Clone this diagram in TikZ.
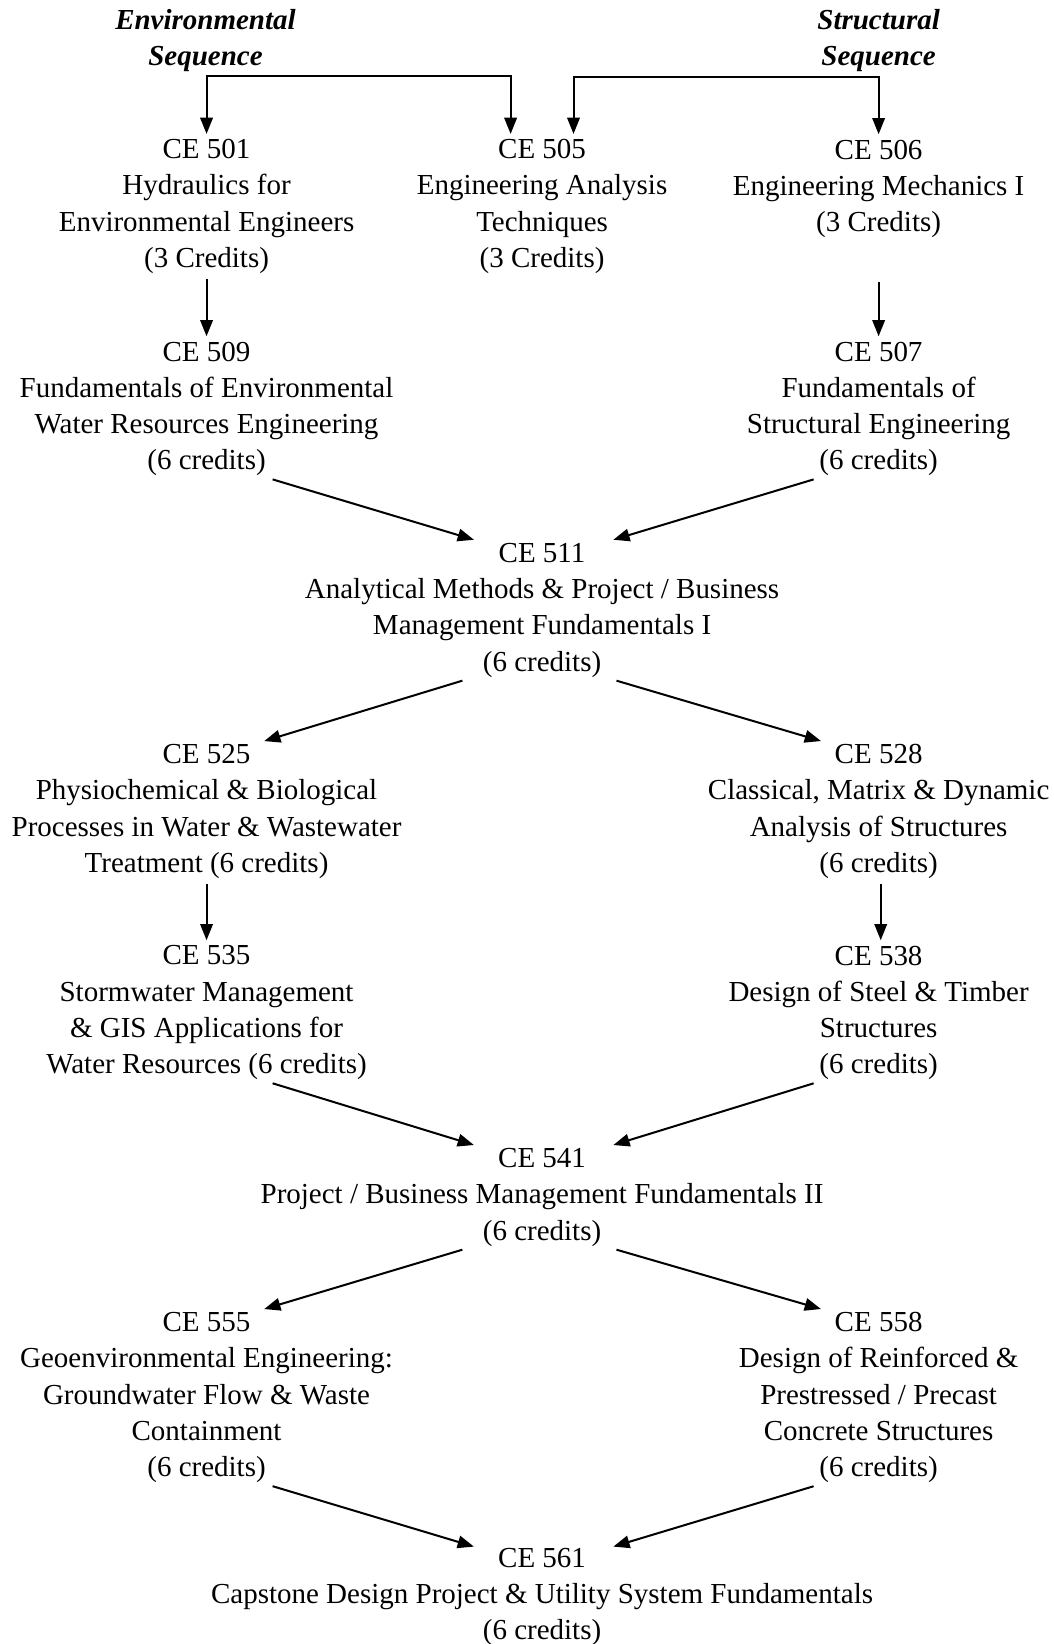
\documentclass[tikz,border=0pt]{standalone}
\usepackage{fontspec}
\setmainfont{Liberation Serif}
\usetikzlibrary{arrows.meta,calc}
\tikzset{
  course/.style={align=center,inner sep=2pt,font=\fontsize{11.6}{14.5}\selectfont},
  seqhead/.style={align=center,inner sep=2pt,font=\fontsize{11.6}{14.5}\selectfont\bfseries\itshape},
  flow/.style={-{Triangle[length=6.5pt,width=5pt]},line width=.8pt},
  split/.style={{Triangle[length=6.5pt,width=5pt]}-{Triangle[length=6.5pt,width=5pt]},line width=.8pt},
}
\begin{document}
\begin{tikzpicture}[x=.4195pt,y=-.4195pt]
  \useasboundingbox (0,0) rectangle (1005,1568);
  \node[seqhead] (envseq) at (196,39) {Environmental\\Sequence};
  \node[seqhead] (strseq) at (838,39) {Structural\\Sequence};
  \node[course] (c501) at (197,197) {CE 501\\Hydraulics for\\Environmental Engineers\\(3 Credits)};
  \node[course] (c505) at (517,197) {CE 505\\Engineering Analysis\\Techniques\\(3 Credits)};
  \node[course] (c506) at (838,180) {CE 506\\Engineering Mechanics I\\(3 Credits)};
  \node[course] (c509) at (197,390) {CE 509\\Fundamentals of Environmental\\Water Resources Engineering\\(6 credits)};
  \node[course] (c507) at (838,390) {CE 507\\Fundamentals of\\Structural Engineering\\(6 credits)};
  \node[course] (c511) at (517,582) {CE 511\\Analytical Methods \& Project / Business\\Management Fundamentals I\\(6 credits)};
  \node[course] (c525) at (197,774) {CE 525\\Physiochemical \& Biological\\Processes in Water \& Wastewater\\Treatment (6 credits)};
  \node[course] (c528) at (838,774) {CE 528\\Classical, Matrix \& Dynamic\\Analysis of Structures\\(6 credits)};
  \node[course] (c535) at (197,966) {CE 535\\Stormwater Management\\\& GIS Applications for\\Water Resources (6 credits)};
  \node[course] (c538) at (838,966) {CE 538\\Design of Steel \& Timber\\Structures\\(6 credits)};
  \node[course] (c541) at (517,1142) {CE 541\\Project / Business Management Fundamentals II\\(6 credits)};
  \node[course] (c555) at (197,1333) {CE 555\\Geoenvironmental Engineering:\\Groundwater Flow \& Waste\\Containment\\(6 credits)};
  \node[course] (c558) at (838,1333) {CE 558\\Design of Reinforced \&\\Prestressed / Precast\\Concrete Structures\\(6 credits)};
  \node[course] (c561) at (517,1523) {CE 561\\Capstone Design Project \& Utility System Fundamentals\\(6 credits)};
  % sequence brackets
  \draw[split] (c501.north) -- ++(0,-55) -| ($(c505.north)+(-30,0)$);
  \draw[split] (c506.north) -- ++(0,-55) -| ($(c505.north)+(30,0)$);
  % first year
  \draw[flow] (c501.south) -- (c509.north);
  \draw[flow] ($(c507.north)+(0,-52)$) -- (c507.north);
  \draw[flow] ($(c509.south)+(63,-2)$) -- ($(c511.north)+(-65,2)$);
  \draw[flow] ($(c507.south)+(-62,-2)$) -- ($(c511.north)+(68,2)$);
  % second year
  \draw[flow] ($(c511.south)+(-76,-2)$) -- ($(c525.north)+(55,2)$);
  \draw[flow] ($(c511.south)+(71,-2)$) -- ($(c528.north)+(-55,2)$);
  \draw[flow] (c525.south) -- (c535.north);
  \draw[flow] ($(c528.south)+(2,0)$) -- ($(c538.north)+(2,0)$);
  \draw[flow] ($(c535.south)+(63,-2)$) -- ($(c541.north)+(-65,2)$);
  \draw[flow] ($(c538.south)+(-62,-2)$) -- ($(c541.north)+(68,2)$);
  % third year
  \draw[flow] ($(c541.south)+(-76,-2)$) -- ($(c555.north)+(55,2)$);
  \draw[flow] ($(c541.south)+(71,-2)$) -- ($(c558.north)+(-55,2)$);
  \draw[flow] ($(c555.south)+(63,-2)$) -- ($(c561.north)+(-65,4)$);
  \draw[flow] ($(c558.south)+(-62,-2)$) -- ($(c561.north)+(68,4)$);
\end{tikzpicture}
\end{document}
